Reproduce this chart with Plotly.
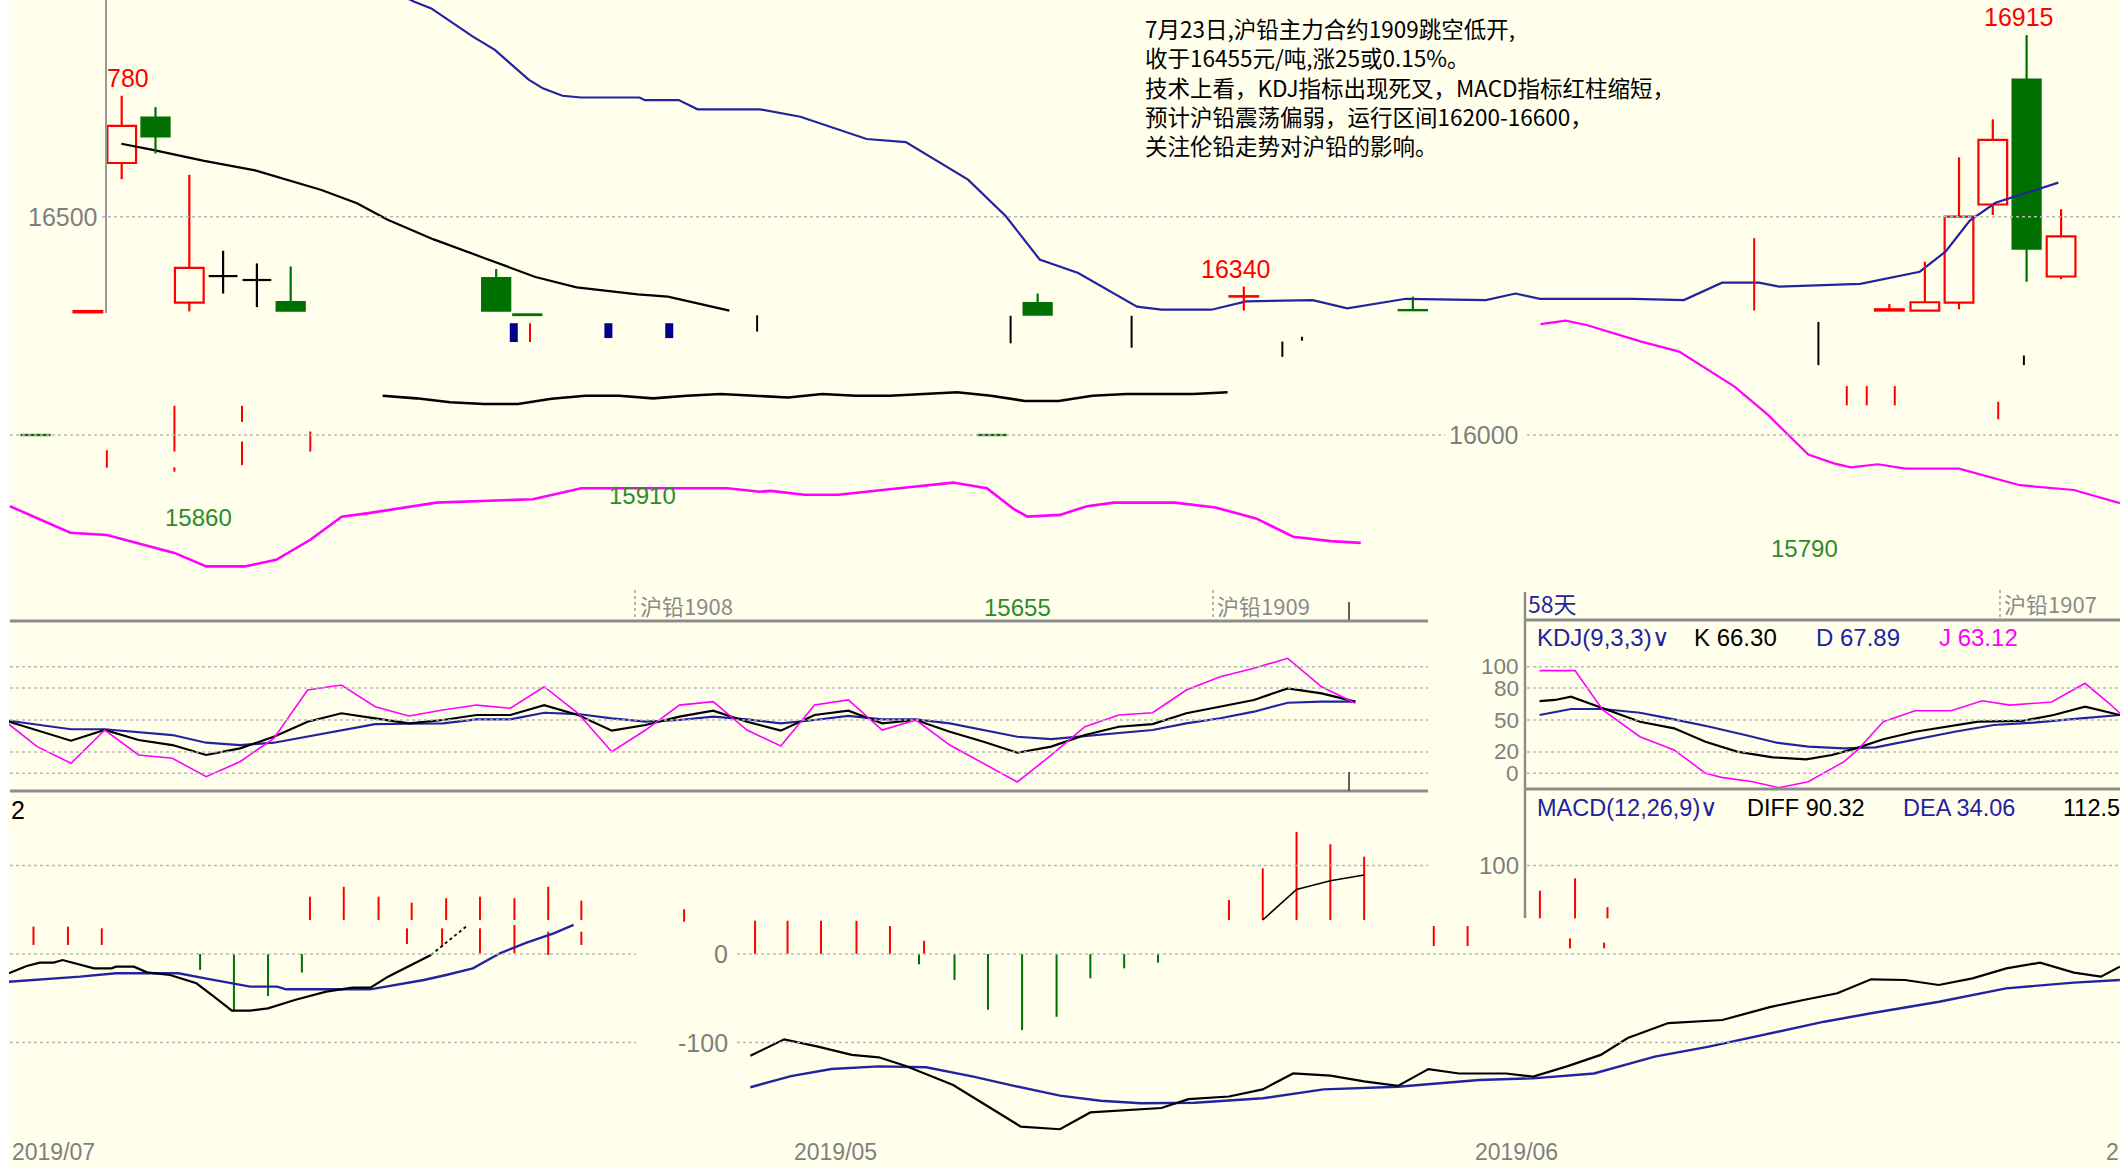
import plotly.graph_objects as go

W, H = 2120, 1167
BG = "#FFFFEC"
RED = "#FF0000"
GREEN = "#007000"
NAVY = "#2323A0"
MAGENTA = "#FF00FF"
TXTGRAY = "#7F7F7F"
GRID = "#B8B8B8"
SEP = "#8C8C8C"
LAT = "Liberation Sans, Arial, sans-serif"
CJK = "Noto Sans CJK SC, sans-serif"

# ---------------- price panel (bar index / price) ----------------
cdl_x = [0.45, 2, 3, 4, 5, 6, 7, 8, 14.08, 15, 28.75, 30.1, 36.2, 41.2, 55.3, 56.35, 57.36, 58.36, 59.36, 60.38]
cdl_o = [16001, 16281, 16623, 16728, 16303, 16364, 16355, 16305, 16360, 16277, 16001, 16303, 16317, 16287, 16285, 16285, 16303, 16528, 16815, 16363]
cdl_h = [16001, 16281, 16777, 16751, 16596, 16422, 16393, 16386, 16380, 16277, 16001, 16324, 16340, 16317, 16300, 16397, 16636, 16723, 16916, 16517]
cdl_l = [15999, 16281, 16586, 16645, 16283, 16324, 16293, 16284, 16284, 16274, 15999, 16275, 16285, 16285, 16285, 16285, 16288, 16504, 16351, 16357]
cdl_c = [15999, 16284, 16708, 16683, 16383, 16364, 16355, 16284, 16284, 16274, 15999, 16275, 16318, 16285, 16288, 16304, 16500, 16676, 16426, 16455]

ma_x = [2.99, 3.92, 5.44, 6.95, 8.91, 9.96, 10.87, 12.23, 13.74, 15.24, 16.46, 18.27, 19.16, 20.23, 20.98]
ma_y = [16667, 16653, 16628, 16606, 16561, 16531, 16493, 16448, 16405, 16362, 16338, 16322, 16317, 16298, 16285]

ub_x = [11.2, 11.64, 12.16, 12.72, 13.38, 14.04, 14.6, 15.04, 15.46, 16.04, 16.6, 18.32, 18.48, 19.48, 20.04, 21.88,
        23.08, 25.04, 26.2, 28.04, 29.16, 30.16, 31.3, 33.04, 33.76, 35.24, 36.27, 38.24, 39.26, 41.0, 43.36, 44.24,
        44.96, 47.72, 49.22, 50.35, 51.44, 52.04, 54.44, 56.2, 56.96, 57.68, 58.44, 60.3]
ub_y = [17010, 16993, 16977, 16947, 16913, 16882, 16845, 16814, 16794, 16777, 16773, 16773, 16767, 16767, 16746, 16746,
        16729, 16678, 16671, 16585, 16501, 16402, 16371, 16294, 16287, 16287, 16306, 16309, 16290, 16312, 16309, 16324,
        16312, 16312, 16309, 16349, 16349, 16340, 16346, 16374, 16420, 16491, 16532, 16578]

lb1_x = [-0.31, 1.48, 2.56, 4.56, 5.5, 6.64, 7.57, 8.58, 9.51, 10.3, 12.31, 15.16, 16.6, 20.91, 21.88, 22.2, 23.2, 24.2,
         26.0, 27.6, 28.6, 29.4, 29.8, 30.76, 31.56, 32.36, 34.16, 35.36, 36.56, 37.66, 38.76, 39.66]
lb1_y = [15837, 15776, 15771, 15730, 15699, 15699, 15714, 15760, 15813, 15821, 15845, 15853, 15878, 15878, 15870, 15872,
         15863, 15863, 15878, 15891, 15878, 15830, 15813, 15817, 15837, 15845, 15845, 15834, 15809, 15767, 15757, 15753]

lb2_x = [44.98, 45.72, 46.34, 47.96, 49.08, 50.72, 51.71, 52.9, 53.66, 54.16, 54.96, 55.78, 57.36, 59.16, 60.76, 62.12]
lb2_y = [16254, 16262, 16252, 16214, 16191, 16111, 16046, 15955, 15935, 15926, 15933, 15923, 15923, 15885, 15874, 15844]

mb_start = 10.72
mb_y = [16090, 16084, 16075, 16071, 16071, 16083, 16090, 16090, 16084, 16090, 16094, 16090, 16086, 16094, 16090,
        16090, 16094, 16098, 16090, 16078, 16078, 16090, 16094, 16094, 16094, 16098]

stk_red_x = [2.56, 4.56, 4.56, 6.56, 6.56, 8.58, 15.08, 51.3, 54.04, 54.63, 55.46, 58.52]
stk_red_lo = [15925, 15962, 15916, 16030, 15931, 15962, 16213, 16285, 16068, 16068, 16068, 16036]
stk_red_hi = [15965, 16067, 15926, 16067, 15985, 16008, 16256, 16451, 16112, 16112, 16112, 16076]
stk_blk_x = [21.8, 29.3, 32.88, 37.34, 37.92, 53.2, 59.28]
stk_blk_lo = [16237, 16210, 16200, 16179, 16216, 16160, 16160]
stk_blk_hi = [16274, 16273, 16273, 16214, 16225, 16259, 16182]
blu_x = [14.6, 17.4, 19.2]
blu_lo = [16213, 16222, 16222]
blu_hi = [16256, 16256, 16256]

hi_lbl_text = ["780", "16340", "16915"]
hi_lbl_x = [3.18, 35.97, 59.13]
hi_lbl_y = [16777, 16340, 16916]
lo_lbl_text = ["15860", "15910", "15655", "15790"]
lo_lbl_x = [5.28, 18.4, 29.5, 52.8]
lo_lbl_y = [15860, 15910, 15655, 15790]

price_ticks = [16500, 16000]

# ---------------- KDJ ----------------
kdj_left_start = -0.5
K1 = [50, 40, 30.6, 40.6, 31.2, 26.5, 17.2, 23.4, 34.3, 48.4, 56.3, 51.6, 46.9, 50, 54.7, 54.7, 64, 54.7, 40, 45.3, 53.1,
      58.7, 48.4, 40, 54.7, 58.7, 46.9, 50, 39, 29.6, 19.3, 25, 35.9, 43.7, 46.2, 56.3, 62.5, 68.8, 79.7, 75, 67.2]
D1 = [50, 45.6, 41.3, 41.3, 38.6, 35.9, 28.7, 26.5, 28.7, 34.3, 40.6, 46.2, 46.5, 46.9, 50.6, 50.6, 56.8, 55.6, 51.6, 48.4,
      50, 53.1, 50.6, 46.9, 50, 53.8, 50.6, 50.6, 46.9, 40.6, 34.3, 32, 35, 37.5, 40.6, 46.9, 51.6, 57.8, 66.2, 67.2, 67.2]
J1 = [50, 25, 9.4, 40.6, 17.2, 14.1, -3.2, 10.9, 32.8, 78.1, 82.8, 62.5, 53.8, 59.4, 64, 61, 81.2, 56.3, 20.3, 40.6, 64,
      67.2, 40.6, 25.6, 64, 68.8, 40.6, 50, 26.5, 9.4, -8.1, 17, 43.7, 54.7, 56.8, 78.1, 90.6, 98.5, 107.9, 81.2, 65.7]
J2_x = [44.95, 46.0, 46.82, 47.92, 48.93, 49.86, 50.33, 51.26, 52.03, 52.9, 53.96, 54.36, 55.12, 56.06, 57.12, 58.05,
        58.87, 59.69, 60.1, 61.09, 61.8, 62.12]
J2 = [96.3, 96.3, 59.4, 34.3, 21.9, 0, -3.8, -7.9, -13.5, -7.9, 10.9, 21.9, 48.4, 58.7, 58.7, 68.1, 64, 66.2, 66.9, 84.4,
      65.7, 56.3]
K2_x = [44.95, 45.41, 45.88, 46.82, 47.92, 48.93, 49.86, 50.79, 51.85, 52.84, 53.6, 54.31, 55.12, 56.06, 57.0, 57.93,
        59.22, 60.16, 61.09, 62.12]
K2 = [67.8, 68.8, 71.9, 61, 48.4, 42.2, 29.6, 20.3, 15, 13.1, 17.2, 23.4, 31.9, 39, 43.7, 48.4, 49.1, 54.7, 62.5, 54.7]
D2_x = [44.95, 45.88, 46.82, 47.92, 48.93, 49.98, 51.03, 51.97, 52.9, 53.96, 54.89, 56.06, 57.23, 58.39, 59.57, 60.97, 62.12]
D2 = [54.7, 60.3, 60.3, 56.8, 50.6, 43.7, 35.9, 28.7, 25, 23.4, 24.4, 31.9, 39, 45.3, 47.5, 51.6, 54.7]
kdj_ticks = [100, 80, 50, 20, 0]
kdj_header = [("KDJ(9,3,3)∨", NAVY), ("K 66.30", "#000000"), ("D 67.89", NAVY), ("J 63.12", MAGENTA)]

# ---------------- MACD ----------------
dif1_x = [-0.34, 0.19, 0.58, 0.99, 1.25, 1.77, 2.18, 2.70, 2.83, 3.36, 3.75, 4.43, 5.21, 5.73, 6.26, 6.80, 7.33, 8.12,
          9.05, 9.83, 10.36, 10.88, 11.55, 12.15]
dif1_y = [-21.8, -13.6, -9.8, -9.8, -6.8, -12.4, -16.2, -16.2, -14.3, -14.3, -20.7, -23.7, -33.1, -48.2, -64, -64, -61.4,
          -52, -42.6, -38, -38, -25.6, -12.4, -1.1]
dif1_tail_x = [12.15, 13.19]
dif1_tail_y = [-1.1, 31]
dea1_x = [-0.34, 0.72, 1.77, 2.83, 3.89, 4.68, 5.47, 6.26, 6.80, 7.60, 7.86, 10.35, 11.02, 11.94, 12.60, 13.39, 14.19,
          14.98, 15.78, 16.37]
dea1_y = [-31.3, -28.6, -25.6, -21.8, -21.8, -21.8, -27.5, -33.1, -36.9, -36.9, -39.9, -39.9, -35.8, -29.4, -23.7, -16.2,
          0.8, 12.8, 23.4, 32.8]
dif2_x = [21.6, 22.6, 23.6, 24.6, 25.4, 26.2, 27.6, 28.8, 29.6, 30.76, 31.66, 33.76, 34.56, 35.76, 36.76, 37.66, 38.76,
          39.76, 40.76, 41.66, 42.57, 43.96, 44.76, 45.76, 46.76, 47.56, 48.76, 50.36, 51.76, 52.76, 53.76, 54.76, 55.76,
          56.76, 57.76, 58.76, 59.76, 60.76, 61.56, 62.12]
dif2_y = [-115, -96.4, -104.7, -114, -116.7, -126.6, -148, -176, -195, -198, -179, -174, -164, -161, -153, -135, -137.5,
          -144, -149, -130, -135, -135, -138.6, -127, -114, -95, -78, -74.6, -60, -52, -44.4, -28.6, -29.4, -35, -27.5,
          -16.2, -9.8, -21, -25.6, -14.3]
dea2_x = [21.6, 22.8, 24.0, 25.4, 26.8, 28.2, 29.4, 30.76, 31.96, 33.16, 34.75, 36.76, 38.56, 40.76, 43.16, 44.76, 46.56,
          48.36, 49.96, 51.77, 53.37, 54.76, 56.77, 58.75, 60.76, 62.12]
dea2_y = [-150.6, -138, -130, -127, -128, -138.6, -149, -160, -165.8, -168.7, -168, -163, -153, -150, -142.4, -140.5, -135,
          -116, -104.7, -89.6, -76.5, -67, -53.9, -38.8, -32.4, -29.4]
hr_x = [21.74, 22.70, 23.69, 24.74, 25.73, 26.74]
hr_y = [37.6, 37.6, 37.6, 37.6, 31.6, 15]
hg_x = [5.32, 6.32, 7.33, 8.33, 26.59, 27.64, 28.63, 29.64, 30.66, 31.66, 32.66, 33.66]
hg_y = [-18, -65, -47.5, -21, -11.7, -29.4, -63, -86, -71, -27.5, -16.2, -9.8]
hf_x = [0.39, 1.41, 2.41, 8.57, 9.57, 10.6, 11.58, 12.6, 13.6, 14.62, 15.62, 16.6, 19.64, 11.44, 12.48, 13.6, 14.62,
        15.62, 16.6, 35.76, 36.76, 37.76, 38.76, 39.76, 41.82, 42.82, 45.85, 46.86, 44.96, 46.0, 46.96]
hf_lo = [10.2, 10.2, 10.2, 38.4, 38.4, 38.4, 38.4, 38.4, 38.4, 38.4, 38.4, 38.4, 36.5, 11.3, 8.2, 0.8, 0.8, -1.1, 10.2,
         38.4, 38.4, 38.4, 38.4, 38.4, 9, 9, 6.4, 6.4, 40.3, 40.3, 40.3]
hf_hi = [30.9, 30.9, 29, 64.8, 76, 64.8, 58, 63, 64.8, 63, 76, 60.3, 50.5, 29, 29, 29, 32.8, 25.2, 25.2, 61, 96.8, 138,
         124, 110, 31.6, 31.6, 17.7, 13, 71.5, 85.5, 53]
bk_x = [36.76, 37.76, 38.76, 39.76]
bk_y = [38.4, 73, 82.8, 89.3]
macd_ticks = [100, 0, -100]
macd_header = [("MACD(12,26,9)∨", NAVY), ("DIFF 90.32", "#000000"), ("DEA 34.06", NAVY), ("112.5", "#000000")]

note_lines = ["7月23日,沪铅主力合约1909跳空低开,",
              "收于16455元/吨,涨25或0.15%。",
              "技术上看，KDJ指标出现死叉，MACD指标红柱缩短，",
              "预计沪铅震荡偏弱，运行区间16200-16600，",
              "关注伦铅走势对沪铅的影响。"]
date_labels = ["2019/07", "2019/05", "2019/06", "2"]


# ---------------- helpers ----------------
def span(va, pa, vb, pb, total):
    k = (vb - va) / (pb - pa)
    return [va + (total - pa) * k, va - pa * k]


def xp(px):
    return px / W


def yp(py):
    return 1 - py / H


def segs(xs, lo, hi):
    ox, oy = [], []
    for x, a, b in zip(xs, lo, hi):
        ox += [x, x, None]
        oy += [a, b, None]
    return ox, oy


X_RANGE = span(3, 121.7, 57.36, 1959.0, W)[::-1]
Y_PRICE = span(16500, 216.7, 16000, 435.0, H)
Y_KDJ = span(100, 666.7, 0, 773.3, H)
Y_MACD = span(100, 865.5, 0, 954.0, H)

fig = go.Figure()


def line(x, y, color, width, yaxis="y", dash="solid"):
    fig.add_trace(go.Scatter(x=x, y=y, mode="lines", yaxis=yaxis, xaxis="x",
                             line=dict(color=color, width=width, dash=dash), hoverinfo="skip"))


# candle wicks
BODY_W = 0.85
wick = {"up": ([], []), "dn": ([], []), "fl": ([], [])}
flat_x, flat_y = [], []
up_i, dn_i = [], []
for i, (x, o, h, l, c) in enumerate(zip(cdl_x, cdl_o, cdl_h, cdl_l, cdl_c)):
    kind = "up" if c > o else ("dn" if c < o else "fl")
    top, bot = max(o, c), min(o, c)
    wx, wy = wick[kind]
    if h > top:
        wx += [x, x, None]; wy += [top, h, None]
    if l < bot:
        wx += [x, x, None]; wy += [l, bot, None]
    if kind == "up":
        up_i.append(i)
    elif kind == "dn":
        dn_i.append(i)
    else:
        flat_x += [x - BODY_W / 2, x + BODY_W / 2, None]
        flat_y += [o, o, None]

# bands and lines in price panel
line(ub_x, ub_y, NAVY, 2.2)
line(lb1_x, lb1_y, MAGENTA, 2.6)
line(lb2_x, lb2_y, MAGENTA, 2.2)
line([mb_start + k for k in range(len(mb_y))], mb_y, "#000000", 2.6)
line(ma_x, ma_y, "#000000", 2.2)
sx, sy = segs(stk_red_x, stk_red_lo, stk_red_hi)
line(sx, sy, RED, 2)
sx, sy = segs(stk_blk_x, stk_blk_lo, stk_blk_hi)
line(sx, sy, "#000000", 2)
sx, sy = segs(blu_x, blu_lo, blu_hi)
line(sx, sy, "#00008C", 8)

line(*wick["up"], RED, 2.2)
line(*wick["dn"], GREEN, 2.2)
line(*wick["fl"], "#000000", 2.2)
line(flat_x, flat_y, "#000000", 2.2)

fig.add_trace(go.Bar(x=[cdl_x[i] for i in up_i], y=[cdl_c[i] - cdl_o[i] for i in up_i],
                     base=[cdl_o[i] for i in up_i], width=BODY_W, xaxis="x", yaxis="y",
                     marker=dict(color=BG, line=dict(color=RED, width=2.2)), hoverinfo="skip"))
fig.add_trace(go.Bar(x=[cdl_x[i] for i in dn_i], y=[cdl_o[i] - cdl_c[i] for i in dn_i],
                     base=[cdl_c[i] for i in dn_i], width=BODY_W, xaxis="x", yaxis="y",
                     marker=dict(color=GREEN, line=dict(color=GREEN, width=1.5)), hoverinfo="skip"))

# KDJ
kx1 = [kdj_left_start + k for k in range(len(K1))]
line(kx1 + [None] + D2_x, D1 + [None] + D2, NAVY, 2.2, yaxis="y2")
line(kx1 + [None] + K2_x, K1 + [None] + K2, "#000000", 2.2, yaxis="y2")
line(kx1 + [None] + J2_x, J1 + [None] + J2, MAGENTA, 1.6, yaxis="y2")

# MACD
sx, sy = segs(hr_x, [0] * len(hr_x), hr_y)
line(sx, sy, RED, 2, yaxis="y3")
sx, sy = segs(hg_x, [0] * len(hg_x), hg_y)
line(sx, sy, GREEN, 2, yaxis="y3")
sx, sy = segs(hf_x, hf_lo, hf_hi)
line(sx, sy, RED, 2, yaxis="y3")
line(dea1_x + [None] + dea2_x, dea1_y + [None] + dea2_y, NAVY, 2.4, yaxis="y3")
line(dif1_x + [None] + dif2_x, dif1_y + [None] + dif2_y, "#000000", 2.2, yaxis="y3")
line(dif1_tail_x, dif1_tail_y, "#000000", 1.8, yaxis="y3", dash="dot")
line(bk_x, bk_y, "#000000", 1.6, yaxis="y3")

# ---------------- shapes ----------------
shapes = []


def hseg(y, x0, x1, yref, color, width, dash="solid"):
    yy = yp(y) if yref == "paper" else y
    shapes.append(dict(type="line", xref="paper", yref=yref, x0=xp(x0), x1=xp(x1), y0=yy, y1=yy,
                       line=dict(color=color, width=width, dash=dash)))


def vseg(x, y0, y1, color, width, dash="solid"):
    shapes.append(dict(type="line", xref="paper", yref="paper", x0=xp(x), x1=xp(x), y0=yp(y0), y1=yp(y1),
                       line=dict(color=color, width=width, dash=dash)))


hseg(price_ticks[0], 102, W, "y", GRID, 1.5, "dot")
hseg(price_ticks[1], 10, 1445, "y", GRID, 1.5, "dot")
hseg(price_ticks[1], 1527, W, "y", GRID, 1.5, "dot")
for v in kdj_ticks:
    hseg(v, 10, 1428, "y2", GRID, 1.5, "dot")
    hseg(v, 1527, W, "y2", GRID, 1.5, "dot")
hseg(100, 10, 1428, "y3", GRID, 1.5, "dot")
hseg(100, 1527, W, "y3", GRID, 1.5, "dot")
for v in (0, -100):
    hseg(v, 10, 636, "y3", GRID, 1.5, "dot")
    hseg(v, 737, W, "y3", GRID, 1.5, "dot")

hseg(621, 10, 1428, "paper", SEP, 3)
hseg(791, 10, 1428, "paper", SEP, 3)
hseg(620, 1525, W, "paper", SEP, 3)
hseg(789, 1525, W, "paper", SEP, 3)
vseg(1525, 592, 918, SEP, 2.5)
vseg(106, 0, 313, "#9A9A9A", 2)
vseg(1349, 602, 620, "#606060", 2)
vseg(1349, 772, 791, "#606060", 2)
for x0 in (635, 1213, 2000):
    vseg(x0, 590, 620, "#A0A0A0", 1.5, "dot")
shapes.append(dict(type="rect", xref="paper", yref="paper", x0=0, x1=xp(9), y0=0, y1=1,
                   fillcolor="#FFFFFF", line=dict(width=0), layer="above"))

# ---------------- annotations ----------------
ann = []


def txt(text, x, y, size, color, xanchor="left", yanchor="middle", font=LAT, xref="paper", yref="paper", yshift=0,
        align="left"):
    ann.append(dict(text=text, x=x, y=y, xref=xref, yref=yref, xanchor=xanchor, yanchor=yanchor, yshift=yshift,
                    showarrow=False, align=align, font=dict(family=font, size=size, color=color)))


# commentary block: one text, line pitch = 1.3 x font size
txt("<br>".join(note_lines), xp(1143), yp(10), 22.5, "#000000", yanchor="top", font=CJK)

for t, x, y in zip(hi_lbl_text, hi_lbl_x, hi_lbl_y):
    txt(t, x, y, 25, RED, xanchor="center", yanchor="bottom", xref="x", yref="y", yshift=2)
for t, x, y in zip(lo_lbl_text, lo_lbl_x, lo_lbl_y):
    txt(t, x, y, 24, "#2E8B2E", xanchor="center", yanchor="top", xref="x", yref="y", yshift=-6)

txt(str(price_ticks[0]), xp(100), price_ticks[0], 25, TXTGRAY, xanchor="right", yref="y")
txt(str(price_ticks[1]), xp(1521), price_ticks[1], 25, TXTGRAY, xanchor="right", yref="y")

txt("沪铅1908", xp(638), yp(605), 22, "#8A8A8A", font=CJK)
txt("沪铅1909", xp(1215), yp(605), 22, "#8A8A8A", font=CJK)
txt("沪铅1907", xp(2002), yp(603), 22, "#8A8A8A", font=CJK)
txt("58天", xp(1526), yp(603), 23, NAVY, font=CJK)

hx = [1535, 1692, 1814, 1937]
for (t, col), x in zip(kdj_header, hx):
    txt(t, xp(x), yp(637), 24, col)
mx = [1535, 1745, 1901, 2061]
for (t, col), x in zip(macd_header, mx):
    txt(t, xp(x), yp(808), 23.5, col)

for v in kdj_ticks:
    txt(str(v), xp(1521), v, 22.5, TXTGRAY, xanchor="right", yref="y2")
txt(str(macd_ticks[0]), xp(1521), macd_ticks[0], 24, TXTGRAY, xanchor="right", yref="y3")
for v in macd_ticks[1:]:
    txt(str(v), xp(730), v, 25, TXTGRAY, xanchor="right", yref="y3")
txt("2", xp(9), yp(810), 25, "#000000")

for t, x, anc in zip(date_labels, [10, 835, 1516, 2104], ["left", "center", "center", "left"]):
    txt(t, xp(x), yp(1152), 23, TXTGRAY, xanchor=anc)

ax_common = dict(visible=False, showgrid=False, zeroline=False, fixedrange=True)
fig.update_layout(
    width=W, height=H, margin=dict(l=0, r=0, t=0, b=0, pad=0),
    paper_bgcolor=BG, plot_bgcolor=BG, showlegend=False, hovermode=False, barmode="overlay",
    xaxis=dict(range=X_RANGE, domain=[0, 1], **ax_common),
    yaxis=dict(range=Y_PRICE, domain=[0, 1], **ax_common),
    yaxis2=dict(range=Y_KDJ, overlaying="y", anchor="x", **ax_common),
    yaxis3=dict(range=Y_MACD, overlaying="y", anchor="x", **ax_common),
    shapes=shapes, annotations=ann,
)
fig.write_html("out.html", config={"displayModeBar": False},
               post_script="document.body.style.margin='0px';document.body.style.overflow='hidden';")
